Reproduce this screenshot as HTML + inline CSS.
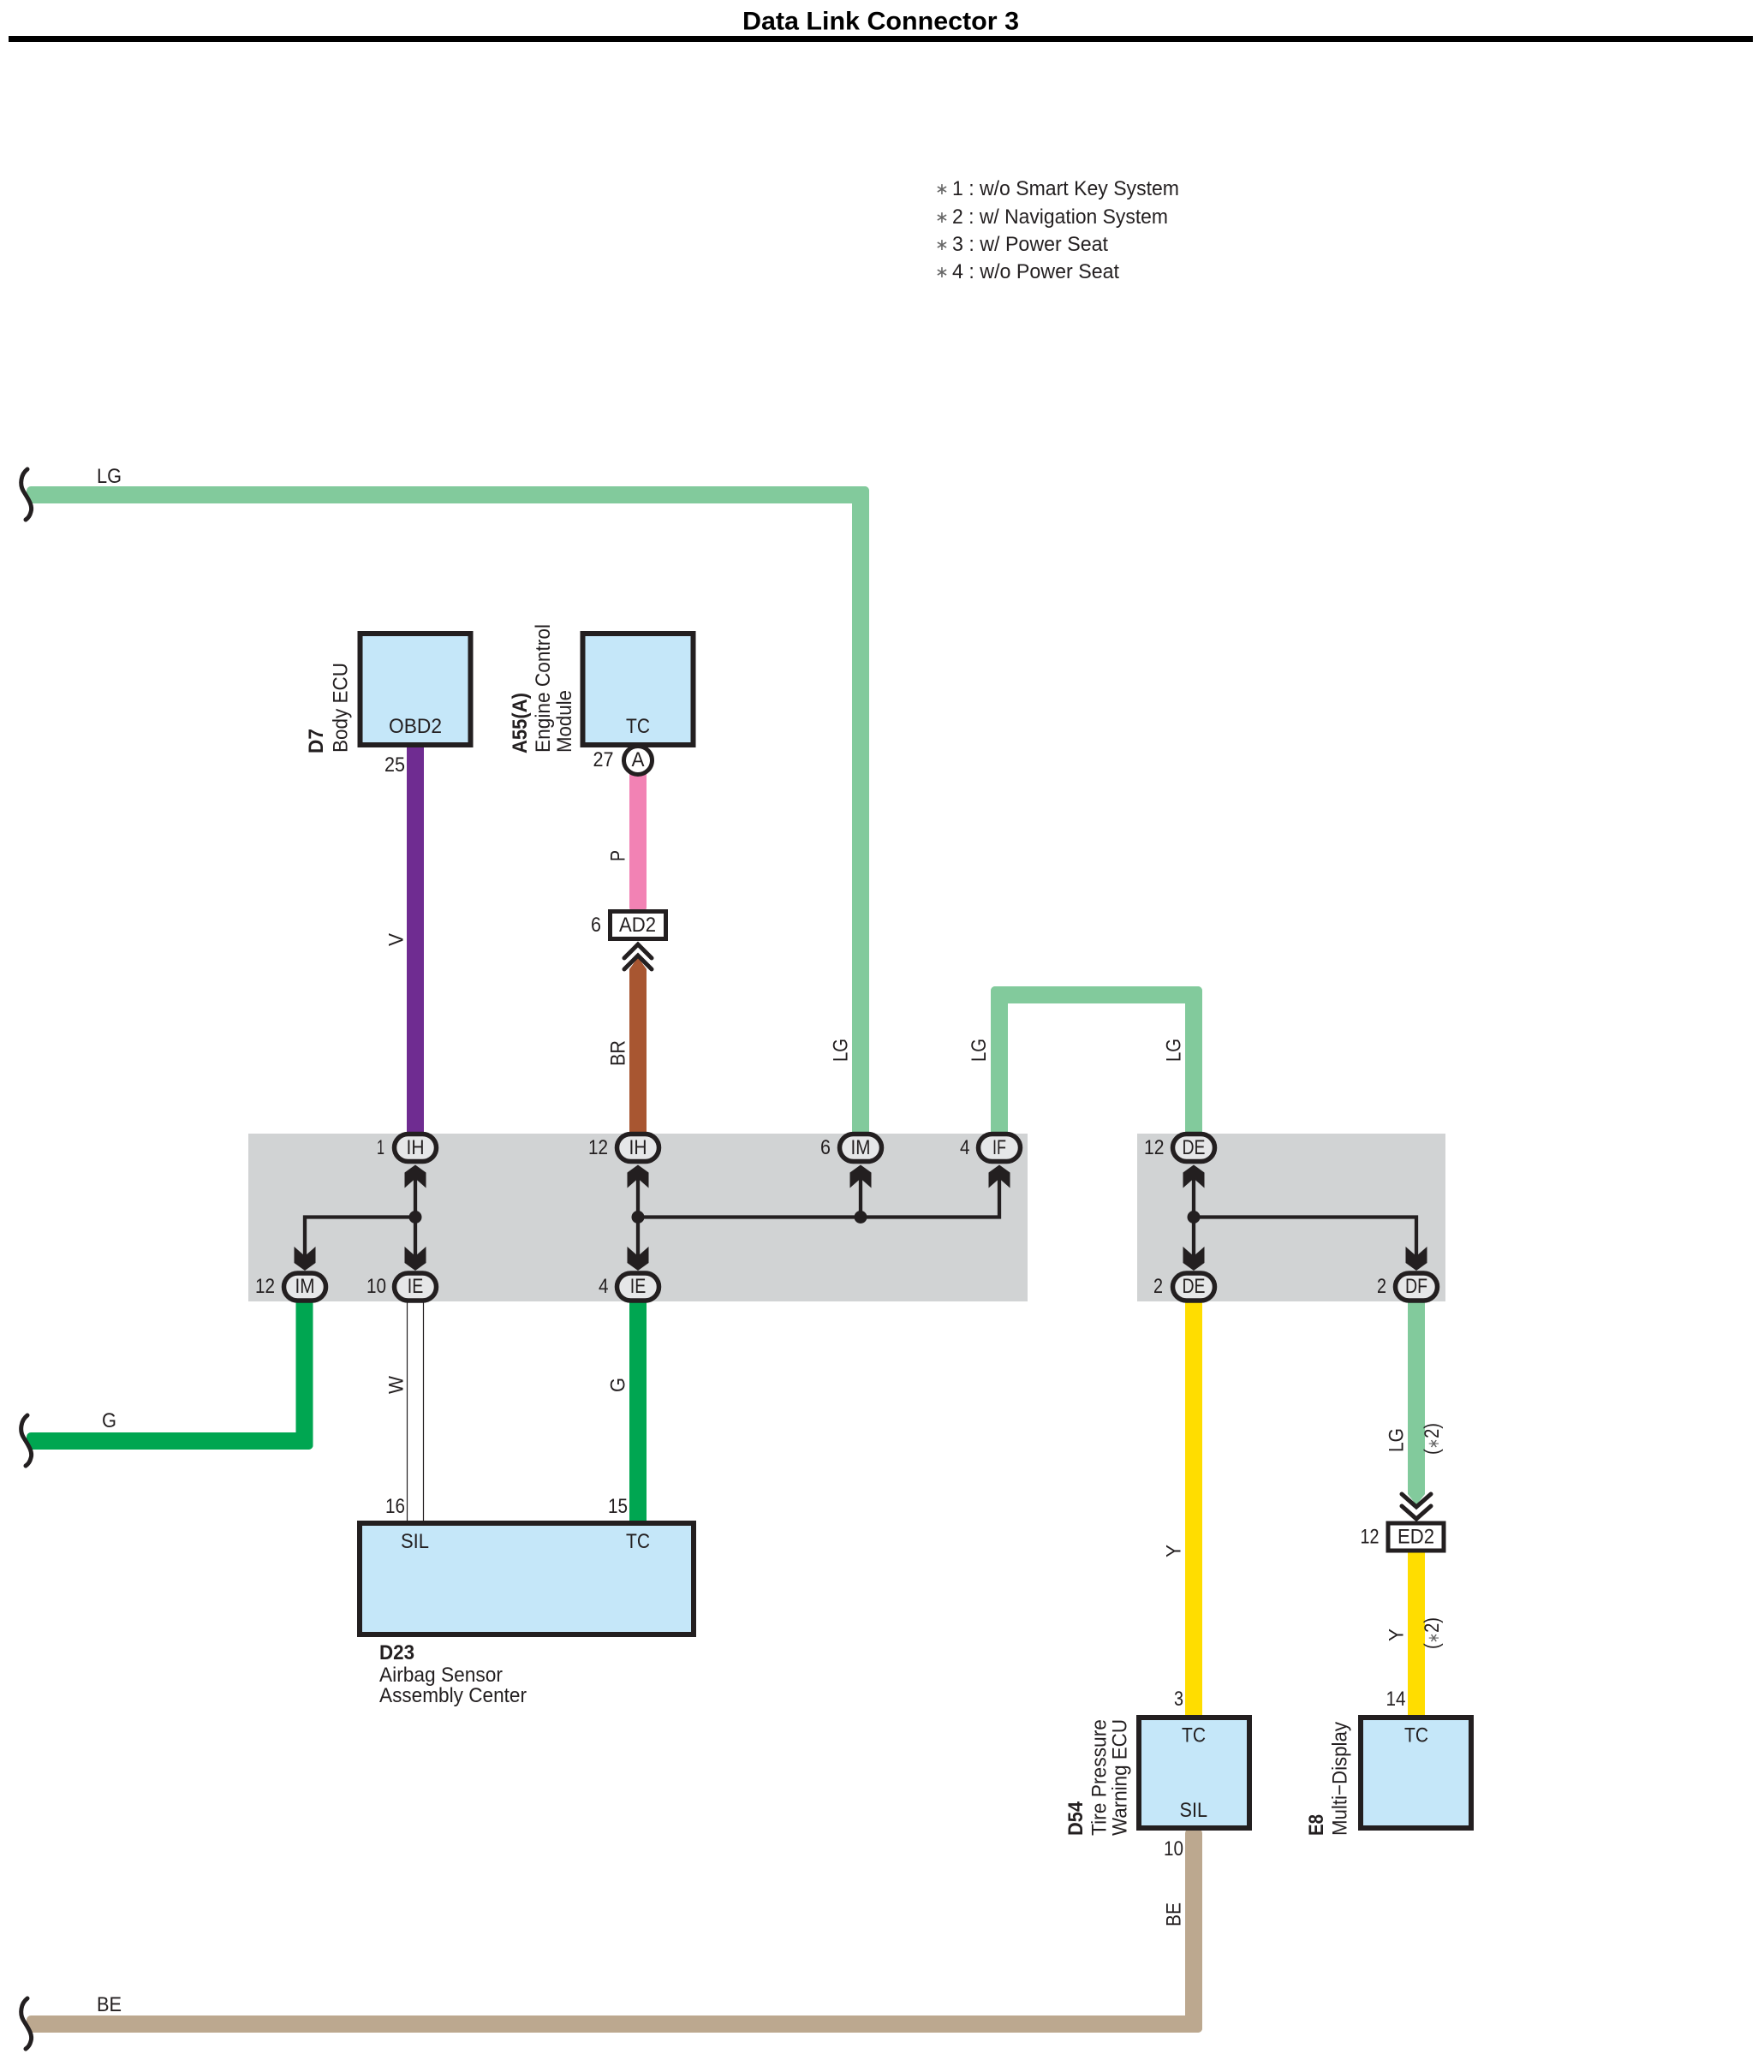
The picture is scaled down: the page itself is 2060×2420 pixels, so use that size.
<!DOCTYPE html>
<html lang="en"><head><meta charset="utf-8"><title>Data Link Connector 3</title>
<style>
html,body{margin:0;padding:0;background:#fff}
svg{display:block}
text{font-family:"Liberation Sans",sans-serif;font-size:24.5px;fill:#231f20}
.b{font-weight:bold}
.m{text-anchor:middle}
.box{fill:#c5e7f9;stroke:#231f20;stroke-width:6}
.pill{fill:#e6e7e8;stroke:#231f20;stroke-width:5.5}
.ln{fill:none;stroke:#231f20;stroke-width:4.3}
.chev{fill:none;stroke:#231f20;stroke-width:5;stroke-linecap:round;stroke-linejoin:miter}
.sq{fill:none;stroke:#231f20;stroke-width:5;stroke-linecap:round}
.lg{fill:#82ca9c}.ye{fill:#ffdd00}
.st{font-size:19px;fill:#666}
</style></head><body>
<svg xmlns="http://www.w3.org/2000/svg" width="2060" height="2420" viewBox="0 0 2060 2420">
<defs>
<path id="up" d="M0 -14L12.500 -5V13L0 2L-12.500 13V-5Z" fill="#231f20"/>
<path id="dn" d="M0 14L12.500 5V-14L0 -3L-12.500 -14V5Z" fill="#231f20"/>
<path id="sq" class="sq" d="M32 -30C24 -24 23 -12 27 -5C31 2 39 12 36 20C35 24 33 27 30 29"/>
</defs>
<rect width="2060" height="2420" fill="#fff"/>

<text x="867" y="34.500" class="b" style="font-size:30px;fill:#000" textLength="323" lengthAdjust="spacingAndGlyphs">Data Link Connector 3</text>
<rect x="10" y="42" width="2037" height="7" fill="#000"/>

<g style="font-size:24px">
<text class="st" x="1092" y="227">∗</text><text x="1112" y="228" style="font-size:24px" textLength="265" lengthAdjust="spacingAndGlyphs">1 : w/o Smart Key System</text>
<text class="st" x="1092" y="260">∗</text><text x="1112" y="261" style="font-size:24px" textLength="252" lengthAdjust="spacingAndGlyphs">2 : w/ Navigation System</text>
<text class="st" x="1092" y="292">∗</text><text x="1112" y="293" style="font-size:24px" textLength="182" lengthAdjust="spacingAndGlyphs">3 : w/ Power Seat</text>
<text class="st" x="1092" y="324">∗</text><text x="1112" y="325" style="font-size:24px" textLength="195" lengthAdjust="spacingAndGlyphs">4 : w/o Power Seat</text>
</g>

<!-- grey panels -->
<rect x="290" y="1324" width="910" height="196" fill="#d1d3d4"/>
<rect x="1328" y="1324" width="360" height="196" fill="#d1d3d4"/>

<!-- wires -->
<rect class="lg" x="31" y="568" width="984" height="20" rx="5"/>
<rect class="lg" x="995" y="568" width="20" height="760" rx="5"/>
<rect class="lg" x="1157" y="1152" width="20" height="176" rx="5"/>
<rect class="lg" x="1157" y="1152" width="247" height="20" rx="5"/>
<rect class="lg" x="1384" y="1152" width="20" height="176" rx="5"/>
<rect x="475" y="870" width="20" height="458" fill="#6f2c91"/>
<rect x="735" y="900" width="20" height="164" rx="4" fill="#f282b4"/>
<path d="M735 1330V1132L745 1118L755 1132V1330Z" fill="#a85631"/>
<rect x="345.500" y="1515" width="20" height="178" rx="5" fill="#00a651"/>
<rect x="31" y="1673" width="334.500" height="20" rx="5" fill="#00a651"/>
<rect x="735" y="1515" width="20" height="263" fill="#00a651"/>
<rect x="475.500" y="1520" width="19" height="258" fill="#fff" stroke="#231f20" stroke-width="1.200"/>
<rect class="ye" x="1384" y="1515" width="20" height="490"/>
<path class="lg" d="M1644 1515H1664V1745L1654 1758L1644 1745Z"/>
<rect class="ye" x="1644" y="1812" width="20" height="193"/>
<rect x="1384" y="2136" width="20" height="238" rx="5" fill="#bca88f"/>
<rect x="31" y="2354" width="1373" height="20" rx="5" fill="#bca88f"/>

<use href="#sq" transform="translate(0,578)"/>
<use href="#sq" transform="translate(0,1683)"/>
<use href="#sq" transform="translate(0,2364)"/>

<!-- boxes -->
<rect class="box" x="420.500" y="740" width="129" height="130"/>
<rect class="box" x="680.500" y="740" width="129" height="130"/>
<rect class="box" x="420" y="1779" width="390" height="130"/>
<rect class="box" x="1330" y="2006" width="129" height="129"/>
<rect class="box" x="1589" y="2006" width="129" height="129"/>

<!-- A circle -->
<circle cx="745" cy="888" r="16.500" fill="#fff" stroke="#231f20" stroke-width="5"/>

<!-- inline connectors -->
<rect x="712.500" y="1064.500" width="65" height="32" fill="#fff" stroke="#231f20" stroke-width="5"/>
<path class="chev" d="M729 1119L745 1103L761 1119"/>
<path class="chev" d="M729 1132L745 1116L761 1132"/>
<rect x="1621" y="1779" width="65" height="32" fill="#fff" stroke="#231f20" stroke-width="5"/>
<path class="chev" d="M1637 1745L1654 1760L1671 1745"/>
<path class="chev" d="M1637 1759L1654 1774L1671 1759"/>

<!-- internal lines -->
<path class="ln" d="M356 1470V1421.500H485M485 1375V1470M745 1375V1470M745 1421.500H1167V1375M1005 1375V1421.500M1394 1375V1470M1394 1421.500H1654V1470"/>
<circle cx="485" cy="1421.500" r="7.500" fill="#231f20"/>
<circle cx="745" cy="1421.500" r="7.500" fill="#231f20"/>
<circle cx="1005" cy="1421.500" r="7.500" fill="#231f20"/>
<circle cx="1394" cy="1421.500" r="7.500" fill="#231f20"/>
<use href="#up" transform="translate(485,1374.500)"/>
<use href="#up" transform="translate(745,1374.500)"/>
<use href="#up" transform="translate(1005,1374.500)"/>
<use href="#up" transform="translate(1167,1374.500)"/>
<use href="#up" transform="translate(1394,1374.500)"/>
<use href="#dn" transform="translate(356,1470)"/>
<use href="#dn" transform="translate(485,1470)"/>
<use href="#dn" transform="translate(745,1470)"/>
<use href="#dn" transform="translate(1394,1470)"/>
<use href="#dn" transform="translate(1654,1470)"/>

<!-- pills -->
<rect class="pill" x="460.500" y="1324.500" width="49" height="32" rx="16"/>
<rect class="pill" x="720.500" y="1324.500" width="49" height="32" rx="16"/>
<rect class="pill" x="980.500" y="1324.500" width="49" height="32" rx="16"/>
<rect class="pill" x="1142.500" y="1324.500" width="49" height="32" rx="16"/>
<rect class="pill" x="1369.500" y="1324.500" width="49" height="32" rx="16"/>
<rect class="pill" x="331.500" y="1487" width="49" height="32" rx="16"/>
<rect class="pill" x="460.500" y="1487" width="49" height="32" rx="16"/>
<rect class="pill" x="720.500" y="1487" width="49" height="32" rx="16"/>
<rect class="pill" x="1369.500" y="1487" width="49" height="32" rx="16"/>
<rect class="pill" x="1629.500" y="1487" width="49" height="32" rx="16"/>

<!-- pill labels -->
<text class="m" x="485" y="1348" textLength="21" lengthAdjust="spacingAndGlyphs">IH</text>
<text class="m" x="745" y="1348" textLength="21" lengthAdjust="spacingAndGlyphs">IH</text>
<text class="m" x="1005" y="1348" textLength="23" lengthAdjust="spacingAndGlyphs">IM</text>
<text class="m" x="1167" y="1348" textLength="16" lengthAdjust="spacingAndGlyphs">IF</text>
<text class="m" x="1394" y="1348" textLength="27" lengthAdjust="spacingAndGlyphs">DE</text>
<text class="m" x="356" y="1510" textLength="23" lengthAdjust="spacingAndGlyphs">IM</text>
<text class="m" x="485" y="1510" textLength="18.500" lengthAdjust="spacingAndGlyphs">IE</text>
<text class="m" x="745" y="1510" textLength="18.500" lengthAdjust="spacingAndGlyphs">IE</text>
<text class="m" x="1394" y="1510" textLength="27" lengthAdjust="spacingAndGlyphs">DE</text>
<text class="m" x="1654" y="1510" textLength="26" lengthAdjust="spacingAndGlyphs">DF</text>

<!-- pin numbers -->
<text x="440" y="1348" textLength="9" lengthAdjust="spacingAndGlyphs">1</text>
<text x="687" y="1348" textLength="23" lengthAdjust="spacingAndGlyphs">12</text>
<text x="958" y="1348" textLength="12" lengthAdjust="spacingAndGlyphs">6</text>
<text x="1121" y="1348" textLength="11.500" lengthAdjust="spacingAndGlyphs">4</text>
<text x="1336" y="1348" textLength="23.500" lengthAdjust="spacingAndGlyphs">12</text>
<text x="298" y="1510" textLength="23" lengthAdjust="spacingAndGlyphs">12</text>
<text x="428" y="1510" textLength="23" lengthAdjust="spacingAndGlyphs">10</text>
<text x="699" y="1510" textLength="11.500" lengthAdjust="spacingAndGlyphs">4</text>
<text x="1347" y="1510" textLength="11" lengthAdjust="spacingAndGlyphs">2</text>
<text x="1608" y="1510" textLength="11" lengthAdjust="spacingAndGlyphs">2</text>
<text x="449" y="901" textLength="24" lengthAdjust="spacingAndGlyphs">25</text>
<text x="692.500" y="895" textLength="24" lengthAdjust="spacingAndGlyphs">27</text>
<text x="690" y="1088" textLength="12" lengthAdjust="spacingAndGlyphs">6</text>
<text x="450" y="1767" textLength="23" lengthAdjust="spacingAndGlyphs">16</text>
<text x="710" y="1767" textLength="23" lengthAdjust="spacingAndGlyphs">15</text>
<text x="1371" y="1992" textLength="11" lengthAdjust="spacingAndGlyphs">3</text>
<text x="1618.500" y="1992" textLength="23" lengthAdjust="spacingAndGlyphs">14</text>
<text x="1359" y="2167" textLength="23" lengthAdjust="spacingAndGlyphs">10</text>
<text x="1588.500" y="1802.500" textLength="22" lengthAdjust="spacingAndGlyphs">12</text>

<!-- terminal labels -->
<text x="454" y="856" textLength="62" lengthAdjust="spacingAndGlyphs">OBD2</text>
<text x="731" y="856" textLength="28" lengthAdjust="spacingAndGlyphs">TC</text>
<text class="m" x="745" y="895" textLength="15" lengthAdjust="spacingAndGlyphs">A</text>
<text x="723" y="1088" textLength="43" lengthAdjust="spacingAndGlyphs">AD2</text>
<text x="1632" y="1802.500" textLength="43" lengthAdjust="spacingAndGlyphs">ED2</text>
<text x="468" y="1808" textLength="33" lengthAdjust="spacingAndGlyphs">SIL</text>
<text x="731" y="1808" textLength="28" lengthAdjust="spacingAndGlyphs">TC</text>
<text x="1380" y="2034.500" textLength="28" lengthAdjust="spacingAndGlyphs">TC</text>
<text x="1377.500" y="2122" textLength="32.500" lengthAdjust="spacingAndGlyphs">SIL</text>
<text x="1640" y="2034.500" textLength="28" lengthAdjust="spacingAndGlyphs">TC</text>

<!-- horizontal wire labels -->
<text x="113" y="564" textLength="29" lengthAdjust="spacingAndGlyphs">LG</text>
<text x="119" y="1667" textLength="17" lengthAdjust="spacingAndGlyphs">G</text>
<text x="113" y="2349" textLength="29" lengthAdjust="spacingAndGlyphs">BE</text>

<!-- vertical wire labels -->
<text transform="translate(470.500,1105) rotate(-90)" textLength="15" lengthAdjust="spacingAndGlyphs">V</text>
<text transform="translate(729.500,1006) rotate(-90)" textLength="13" lengthAdjust="spacingAndGlyphs">P</text>
<text transform="translate(729.500,1245) rotate(-90)" textLength="30" lengthAdjust="spacingAndGlyphs">BR</text>
<text transform="translate(989.500,1240) rotate(-90)" textLength="27" lengthAdjust="spacingAndGlyphs">LG</text>
<text transform="translate(1151,1240) rotate(-90)" textLength="27" lengthAdjust="spacingAndGlyphs">LG</text>
<text transform="translate(1378.500,1240) rotate(-90)" textLength="27" lengthAdjust="spacingAndGlyphs">LG</text>
<text transform="translate(470.500,1628) rotate(-90)" textLength="21" lengthAdjust="spacingAndGlyphs">W</text>
<text transform="translate(729.500,1626) rotate(-90)" textLength="17" lengthAdjust="spacingAndGlyphs">G</text>
<text transform="translate(1378.500,1819) rotate(-90)" textLength="15" lengthAdjust="spacingAndGlyphs">Y</text>
<text transform="translate(1378.500,2250) rotate(-90)" textLength="28" lengthAdjust="spacingAndGlyphs">BE</text>
<text transform="translate(1638.500,1696) rotate(-90)" textLength="28" lengthAdjust="spacingAndGlyphs">LG</text>
<text transform="translate(1638.500,1917) rotate(-90)" textLength="15" lengthAdjust="spacingAndGlyphs">Y</text>
<text transform="translate(1680,1699) rotate(-90)" textLength="37" lengthAdjust="spacingAndGlyphs">(<tspan style="font-size:18px;fill:#666">∗</tspan>2)</text>
<text transform="translate(1680,1926) rotate(-90)" textLength="37" lengthAdjust="spacingAndGlyphs">(<tspan style="font-size:18px;fill:#666">∗</tspan>2)</text>

<!-- component names -->
<text class="b" transform="translate(377,880) rotate(-90)" textLength="29" lengthAdjust="spacingAndGlyphs">D7</text>
<text transform="translate(405.500,879) rotate(-90)" textLength="105" lengthAdjust="spacingAndGlyphs">Body ECU</text>
<text class="b" transform="translate(615,880) rotate(-90)" textLength="71" lengthAdjust="spacingAndGlyphs">A55(A)</text>
<text transform="translate(642,879) rotate(-90)" textLength="150" lengthAdjust="spacingAndGlyphs">Engine Control</text>
<text transform="translate(667,879) rotate(-90)" textLength="73" lengthAdjust="spacingAndGlyphs">Module</text>
<text class="b" x="443" y="1938" textLength="41" lengthAdjust="spacingAndGlyphs">D23</text>
<text x="443" y="1964" textLength="144" lengthAdjust="spacingAndGlyphs">Airbag Sensor</text>
<text x="443" y="1988" textLength="172" lengthAdjust="spacingAndGlyphs">Assembly Center</text>
<text class="b" transform="translate(1264,2144) rotate(-90)" textLength="40" lengthAdjust="spacingAndGlyphs">D54</text>
<text transform="translate(1291.500,2144) rotate(-90)" textLength="136" lengthAdjust="spacingAndGlyphs">Tire Pressure</text>
<text transform="translate(1315.500,2144) rotate(-90)" textLength="136" lengthAdjust="spacingAndGlyphs">Warning ECU</text>
<text class="b" transform="translate(1545,2144) rotate(-90)" textLength="25" lengthAdjust="spacingAndGlyphs">E8</text>
<text transform="translate(1572.500,2144) rotate(-90)" textLength="133" lengthAdjust="spacingAndGlyphs">Multi−Display</text>
</svg>
</body></html>
